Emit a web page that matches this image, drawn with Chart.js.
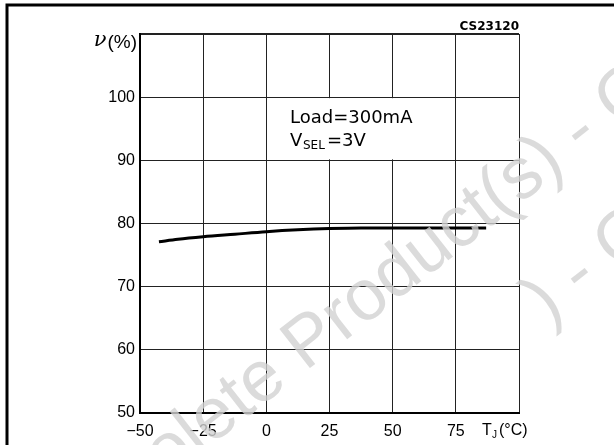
<!DOCTYPE html>
<html>
<head>
<meta charset="utf-8">
<script src="https://cdn.jsdelivr.net/npm/chart.js@4.4.0/dist/chart.umd.min.js"></script>
<style>
  html, body { margin: 0; padding: 0; background: #fff; }
  #wrap { width: 614px; height: 445px; position: relative; }
</style>
</head>
<body>
<div id="wrap"><canvas id="effChart" width="614" height="445"></canvas></div>
<script>
// values
const tempC = [-42.5, -35, -25, -12.5, 0, 12.5, 25, 37.5, 50, 62.5, 75, 87];
const efficiency = [77.1, 77.5, 77.9, 78.3, 78.7, 79.0, 79.2, 79.3, 79.3, 79.3, 79.3, 79.3];
const xTickValues = [-50, -25, 0, 25, 50, 75];
const yTickValues = [50, 60, 70, 80, 90, 100];

const chartId = 'CS23120';
const noteLoad = 'Load=300mA';
const watermark = 'Obsolete Product(s) - Obsolete Product(s)';

//frame, labels, note box and watermark
const extras = {
    id: 'extras',
    beforeDraw(chart) {
        const ctx = chart.ctx;
        ctx.save();
        ctx.fillStyle = '#fff';
        ctx.fillRect(0, 0, chart.width, chart.height);
        ctx.strokeStyle = '#000';
        ctx.lineWidth = 3;
        ctx.strokeRect(7, 5, 700, 600);
        ctx.restore();
    },
    beforeDatasetsDraw(chart) {
        const ctx = chart.ctx;
        const x = chart.scales.x, y = chart.scales.y;
        //white box behind the note
        ctx.save();
        ctx.fillStyle = '#fff';
        const l = x.getPixelForValue(0) + 1, r = x.getPixelForValue(75) - 1;
        const t = y.getPixelForValue(100) + 1, b = y.getPixelForValue(90) - 1;
        ctx.fillRect(l, t, r - l, b - t);

        ctx.fillStyle = '#000';
        ctx.textBaseline = 'middle';
        ctx.font = '18px "DejaVu Sans"';
        ctx.fillText(noteLoad, 290, 118);
        ctx.fillText('V', 290, 141);
        ctx.font = '12px "DejaVu Sans"';
        ctx.fillText('SEL', 303, 146);
        ctx.font = '18px "DejaVu Sans"';
        ctx.fillText('=3V', 327, 141);

        //chart code
        ctx.font = 'bold 12px "DejaVu Sans"';
        ctx.textAlign = 'right';
        ctx.fillText(chartId, chart.chartArea.right, 27);

        //y title
        ctx.font = '19px "Liberation Sans"';
        const rest = '(%)';
        const rw = ctx.measureText(rest).width;
        ctx.fillText(rest, 137, 43);
        ctx.font = 'italic 21px "DejaVu Serif"';
        ctx.fillText('\u03BD', 137 - rw - 1, 41);

        //x title
        ctx.textAlign = 'left';
        ctx.font = '16px "Liberation Sans"';
        ctx.fillText('T', 482, 431);
        ctx.font = '10px "Liberation Sans"';
        ctx.fillText('J', 492, 435);
        ctx.font = '16px "Liberation Sans"';
        ctx.fillText('(\u00B0C)', 499, 431);
        ctx.restore();
    },
    afterDraw(chart) {
        const ctx = chart.ctx;
        ctx.save();
        ctx.font = '72px "Liberation Sans"';
        ctx.fillStyle = 'rgba(210,210,210,0.8)';
        ctx.textBaseline = 'middle';
        const half = ctx.measureText('-').width / 2;
        const rows = [
            [580, 132, 'Obsolete Product(s) ', watermark],
            [579, 275, ') ', ') - Obsolete Product(s)']
        ];
        rows.forEach(([cx, cy, pre, txt]) => {
            ctx.save();
            ctx.translate(cx, cy);
            ctx.rotate(-38 * Math.PI / 180);
            ctx.fillText(txt, -ctx.measureText(pre).width - half, 0);
            ctx.restore();
        });
        ctx.restore();
    }
};

const ctx = document.getElementById('effChart').getContext('2d');
new Chart(ctx, {
    type: 'line',
    data: {
        datasets: [{
            data: tempC.map((t, i) => ({ x: t, y: efficiency[i] })),
            borderColor: '#000',
            borderWidth: 3,
            pointRadius: 0,
            cubicInterpolationMode: 'monotone',
            fill: false
        }]
    },
    options: {
        responsive: false,
        animation: false,
        events: [],
        layout: { padding: { left: 0, right: 95, top: 34, bottom: 0 } },
        plugins: { legend: { display: false }, tooltip: { enabled: false } },
        scales: {
            x: {
                type: 'linear',
                min: -50,
                max: 100,
                afterBuildTicks: axis => { axis.ticks = xTickValues.concat([100]).map(v => ({ value: v })); },
                afterFit: axis => { axis.height = 32; },
                ticks: {
                    padding: 9,
                    maxRotation: 0,
                    autoSkip: false,
                    color: '#000',
                    font: { family: 'Liberation Sans', size: 16 },
                    callback: v => (xTickValues.includes(v) ? String(v).replace('-', '\u2212') : '')
                },
                grid: { color: '#222', lineWidth: 1, drawTicks: false },
                border: { color: '#000', width: 2 }
            },
            y: {
                min: 50,
                max: 110,
                afterBuildTicks: axis => { axis.ticks = yTickValues.concat([110]).map(v => ({ value: v })); },
                afterFit: axis => { axis.width = 140; },
                ticks: {
                    padding: 5,
                    autoSkip: false,
                    color: '#000',
                    font: { family: 'Liberation Sans', size: 16 },
                    callback: v => (yTickValues.includes(v) ? String(v) : '')
                },
                grid: {
                    color: '#222',
                    drawTicks: false,
                    lineWidth: c => (c.tick && c.tick.value === 110 ? 2 : 1)
                },
                border: { color: '#000', width: 2 }
            }
        }
    },
    plugins: [extras]
});
</script>
</body>
</html>
